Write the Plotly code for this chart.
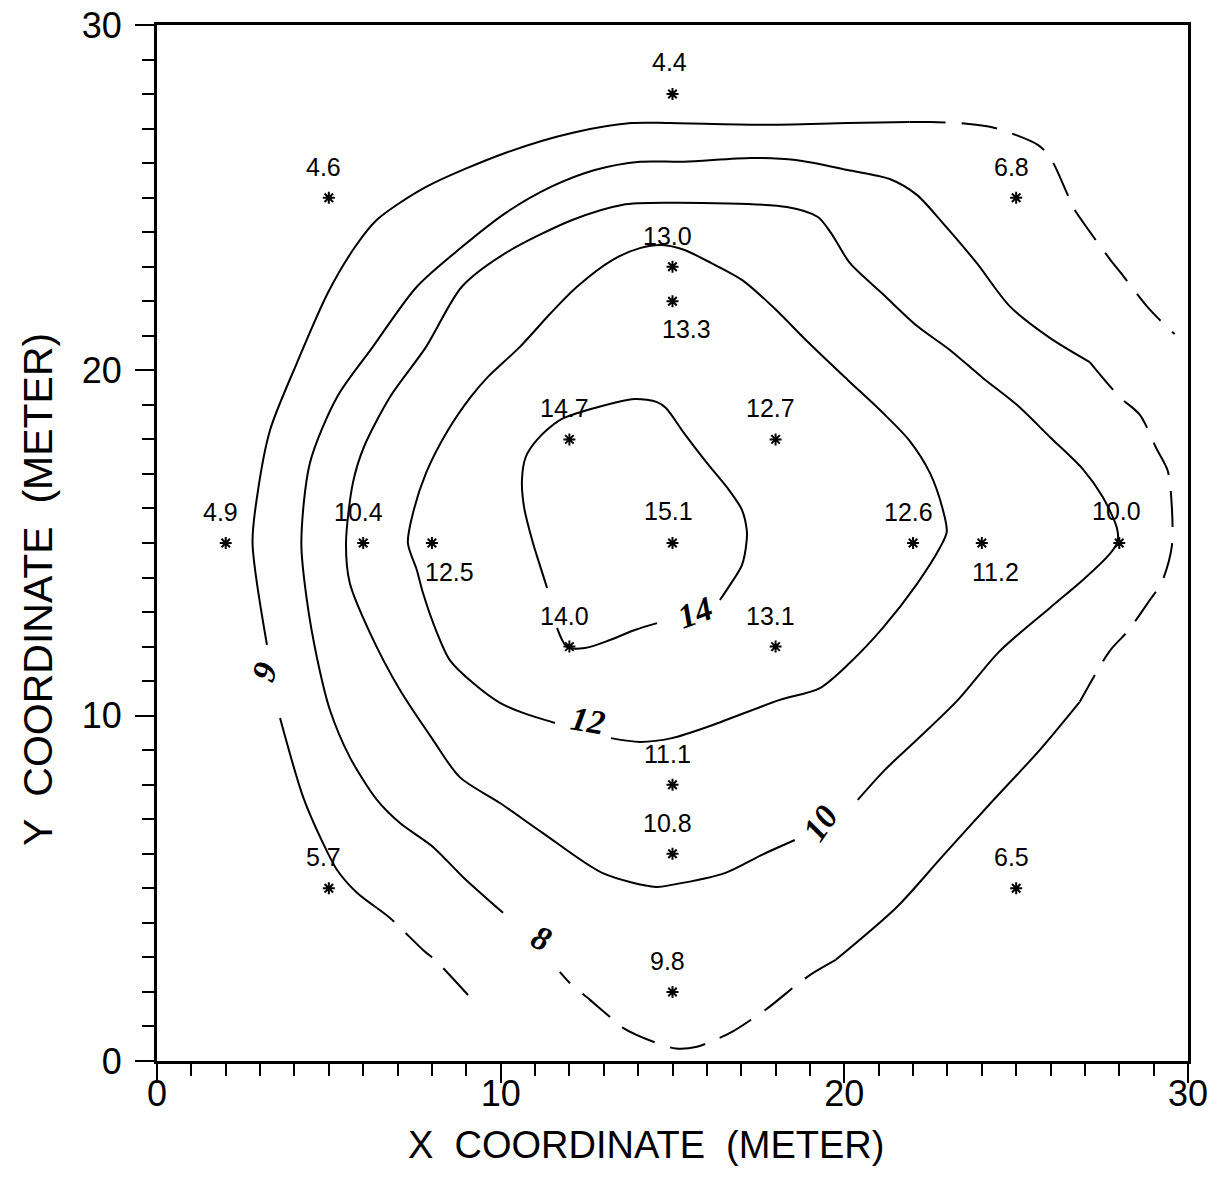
import plotly.graph_objects as go

# ---- sample points (x, y) and measured values ----
pt_x = [15, 5, 25, 15, 15, 12, 18, 2, 6, 8, 15, 22, 24, 28, 12, 18, 15, 15, 5, 25, 15]
pt_y = [28, 25, 25, 23, 22, 18, 18, 15, 15, 15, 15, 15, 15, 15, 12, 12, 8, 6, 5, 5, 2]
pt_val = ["4.4", "4.6", "6.8", "13.0", "13.3", "14.7", "12.7", "4.9", "10.4", "12.5",
          "15.1", "12.6", "11.2", "10.0", "14.0", "13.1", "11.1", "10.8", "5.7", "6.5", "9.8"]

# ---- contour paths (data units) ----
c6_dash_low = [(9.05, 1.91), (8.09, 2.93), (7.80, 3.16), (6.78, 4.14), (6.40, 4.43)]
c6_solid_a = [(6.40, 4.43), (5.82, 4.87), (5.24, 5.53), (4.83, 6.31), (4.25, 7.65), (3.58, 9.93)]
c6_solid_b = [(3.20, 12.05), (2.78, 15.0), (2.91, 16.33), (3.29, 18.27), (4.07, 20.21),
              (4.97, 22.24), (5.76, 23.57), (6.40, 24.36), (7.83, 25.31), (10.15, 26.30),
              (12.10, 26.88), (13.79, 27.16), (14.92, 27.16), (17.54, 27.11), (20.10, 27.16),
              (21.90, 27.19)]
c6_dash_top = [(21.90, 27.19), (22.49, 27.19), (23.56, 27.14), (24.38, 27.02), (25.63, 26.53),
               (25.98, 26.18), (26.50, 25.08), (26.65, 24.73), (27.72, 23.23), (28.07, 22.79),
               (28.80, 21.86), (29.12, 21.52), (29.61, 21.05)]

c8_solid_a = [(10.07, 4.29), (8.90, 5.33), (8.03, 6.20), (7.07, 6.89), (6.40, 7.56), (5.61, 8.80),
              (5.03, 10.17), (4.65, 11.70), (4.36, 13.35), (4.20, 15.0), (4.45, 17.32),
              (5.24, 19.23), (6.28, 20.68), (7.56, 22.42), (8.87, 23.57), (10.15, 24.56),
              (11.46, 25.31), (12.74, 25.80), (14.05, 26.04), (15.33, 26.04), (17.28, 26.15),
              (18.59, 26.09), (20.10, 25.80), (21.32, 25.54), (22.11, 25.08), (22.86, 24.27),
              (23.85, 23.11), (24.81, 21.86), (25.98, 20.94), (27.14, 20.24)]
c8_dash_right = [(27.14, 20.24), (28.01, 19.23), (28.60, 18.71), (29.09, 17.72), (29.41, 17.09),
                 (29.53, 16.04), (29.53, 14.91), (29.24, 13.87), (28.89, 13.35), (28.25, 12.45),
                 (27.72, 11.87), (26.85, 10.40)]
c8_solid_b = [(26.85, 10.40), (25.69, 9.01), (24.26, 7.47), (22.84, 5.91), (21.53, 4.46), (19.75, 2.93)]
c8_dash_bottom = [(19.75, 2.93), (19.14, 2.58), (18.68, 2.26), (17.77, 1.53), (16.73, 0.84),
                  (16.23, 0.61), (15.71, 0.41), (15.10, 0.36), (14.46, 0.55), (13.56, 0.96),
                  (13.21, 1.25), (12.60, 1.77), (12.01, 2.26), (11.72, 2.58)]

c10 = [(20.39, 7.56), (21.18, 8.43), (22.11, 9.30), (23.30, 10.45), (24.52, 11.87), (25.98, 13.12),
       (26.94, 13.93), (27.72, 14.68), (27.95, 15.03), (27.93, 15.44), (27.52, 16.33),
       (26.94, 17.14), (25.98, 18.07), (25.02, 19.00), (24.03, 19.78), (23.07, 20.59),
       (22.11, 21.29), (21.12, 22.21), (20.16, 23.11), (19.61, 23.98), (19.23, 24.44),
       (18.33, 24.73), (14.86, 24.85), (13.53, 24.79), (12.10, 24.36), (10.15, 23.40),
       (8.87, 22.42), (7.83, 20.68), (6.78, 19.23), (6.02, 17.78), (5.70, 16.74), (5.50, 15.00),
       (5.61, 13.84), (6.20, 12.39), (7.07, 10.74), (8.03, 9.30), (8.81, 8.22), (9.98, 7.47),
       (11.23, 6.60), (12.97, 5.44), (14.52, 5.04), (14.98, 5.10), (16.52, 5.44), (17.60, 5.97),
       (18.56, 6.40)]

c12 = [(13.21, 9.35), (14.05, 9.24), (14.98, 9.35), (16.17, 9.73), (18.10, 10.45), (19.29, 10.80),
       (20.16, 11.53), (21.12, 12.54), (22.11, 13.81), (22.78, 14.86), (22.98, 15.32),
       (22.86, 15.99), (22.49, 17.03), (21.90, 17.96), (21.12, 18.77), (20.10, 19.72),
       (18.97, 20.79), (17.92, 21.84), (17.02, 22.62), (16.12, 23.11), (15.33, 23.49),
       (14.69, 23.63), (14.05, 23.54), (13.26, 23.20), (12.22, 22.42), (11.46, 21.66),
       (10.56, 20.68), (9.63, 19.81), (9.13, 19.23), (8.47, 18.27), (7.83, 17.03), (7.45, 15.87),
       (7.30, 15.00), (7.56, 14.22), (7.74, 13.55), (8.15, 12.39), (8.52, 11.61), (9.19, 10.95),
       (9.98, 10.37), (10.65, 10.08), (11.58, 9.79)]

c14_a = [(16.38, 13.35), (16.67, 13.78), (17.02, 14.36), (17.16, 15.09), (17.16, 15.38),
         (17.02, 15.96), (16.64, 16.54), (16.00, 17.32), (15.33, 18.19), (14.81, 18.91),
         (14.55, 19.08), (13.90, 19.17), (12.74, 18.91), (11.72, 18.56), (11.05, 17.98),
         (10.73, 17.49), (10.62, 16.83), (10.68, 16.04), (10.94, 15.00), (11.14, 14.36),
         (11.35, 13.70)]
c14_b = [(11.64, 12.54), (11.93, 11.99), (12.45, 11.96), (13.18, 12.19), (13.90, 12.48), (14.55, 12.68)]

# contour labels: text, x, y, angle
c_labels = [("6", 3.14, 11.27, 110), ("8", 11.20, 3.56, 25), ("10", 19.29, 6.89, -55),
            ("12", 12.54, 9.87, 10), ("14", 15.65, 13.00, -20)]

solid_paths = [c6_solid_a, c6_solid_b, c8_solid_a, c8_solid_b, c10, c12, c14_a, c14_b]
dash_paths = [c6_dash_low, c6_dash_top, c8_dash_right, c8_dash_bottom]

# label pixel offsets (style)
default_shift = (-5, 31)
special_shift = {"4.4": (-3, 32), "13.3": (14, -28), "12.5": (18, -29), "11.2": (14, -29),
                 "10.0": (-3, 32), "15.1": (-4, 32)}

fig = go.Figure()
for p in solid_paths:
    fig.add_trace(go.Scatter(x=[a for a, b in p], y=[b for a, b in p], mode="lines",
                             line=dict(color="black", width=2, shape="spline", smoothing=0.8),
                             hoverinfo="skip", showlegend=False))
for p in dash_paths:
    fig.add_trace(go.Scatter(x=[a for a, b in p], y=[b for a, b in p], mode="lines",
                             line=dict(color="black", width=2, shape="spline", smoothing=0.8,
                                       dash="36px,16px"),
                             hoverinfo="skip", showlegend=False))

fig.add_trace(go.Scatter(x=pt_x, y=pt_y, mode="markers",
                         marker=dict(symbol="asterisk-open", size=10, color="black",
                                     line=dict(color="black", width=2)),
                         hoverinfo="skip", showlegend=False))

annotations = []
for x, y, v in zip(pt_x, pt_y, pt_val):
    dx, dy = special_shift.get(v, default_shift)
    annotations.append(dict(x=x, y=y, xref="x", yref="y", text=v, showarrow=False,
                            xanchor="center", yanchor="middle", xshift=dx, yshift=dy,
                            font=dict(family="Liberation Sans, Arial, sans-serif", size=25, color="black")))
for t, x, y, ang in c_labels:
    annotations.append(dict(x=x, y=y, xref="x", yref="y", text="<b><i>%s</i></b>" % t,
                            showarrow=False, textangle=ang, xanchor="center", yanchor="middle",
                            font=dict(family="Liberation Serif, Times New Roman, serif", size=34,
                                      color="black")))

annotations.append(dict(x=0.474, y=-0.081, xref="paper", yref="paper",
                        xanchor="center", yanchor="middle",
                        text="X  COORDINATE  (METER)", showarrow=False,
                        font=dict(family="Liberation Sans Narrow, Liberation Sans, Arial, sans-serif",
                                  size=38, color="black")))
annotations.append(dict(x=-0.1154, y=0.4546, xref="paper", yref="paper", textangle=-90,
                        xanchor="center", yanchor="middle",
                        text="Y  COORDINATE  (METER)", showarrow=False,
                        font=dict(family="Liberation Sans Narrow, Liberation Sans, Arial, sans-serif",
                                  size=41, color="black")))

axis_common = dict(range=[0, 30], tickvals=[0, 10, 20, 30], ticks="outside", ticklen=19,
                   tickwidth=2, tickcolor="black", showline=True, linecolor="black", linewidth=3,
                   mirror=True, showgrid=False, zeroline=False, automargin=False,
                   ticklabeloverflow="allow",
                   tickfont=dict(family="Liberation Sans, Arial, sans-serif", size=36, color="black"),
                   minor=dict(dtick=1, ticks="outside", ticklen=12, tickwidth=2, tickcolor="black",
                              showgrid=False))

fig.update_layout(width=1215, height=1172, autosize=False,
                  margin=dict(l=149, r=35, t=17, b=119),
                  paper_bgcolor="white", plot_bgcolor="white",
                  xaxis=dict(axis_common, ticklabelstandoff=-20),
                  yaxis=dict(axis_common, ticklabelstandoff=6),
                  annotations=annotations)

fig.write_html("out.html")
